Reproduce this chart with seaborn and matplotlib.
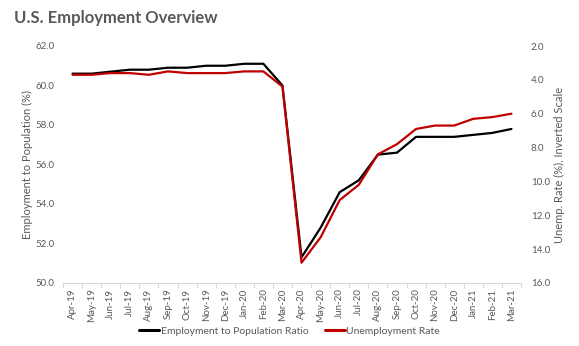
import matplotlib
matplotlib.use("Agg")
import matplotlib.pyplot as plt
import seaborn as sns
import pandas as pd
import numpy as np
from matplotlib.lines import Line2D

months = ["Apr-19", "May-19", "Jun-19", "Jul-19", "Aug-19", "Sep-19", "Oct-19", "Nov-19",
          "Dec-19", "Jan-20", "Feb-20", "Mar-20", "Apr-20", "May-20", "Jun-20", "Jul-20",
          "Aug-20", "Sep-20", "Oct-20", "Nov-20", "Dec-20", "Jan-21", "Feb-21", "Mar-21"]
emp_pop = [60.6, 60.6, 60.7, 60.8, 60.8, 60.9, 60.9, 61.0, 61.0, 61.1, 61.1, 60.0,
           51.3, 52.8, 54.6, 55.2, 56.5, 56.6, 57.4, 57.4, 57.4, 57.5, 57.6, 57.8]
unemp = [3.7, 3.7, 3.6, 3.6, 3.7, 3.5, 3.6, 3.6, 3.6, 3.5, 3.5, 4.4,
         14.8, 13.3, 11.1, 10.2, 8.4, 7.8, 6.9, 6.7, 6.7, 6.3, 6.2, 6.0]
left_ticks = [50.0, 52.0, 54.0, 56.0, 58.0, 60.0, 62.0]
right_ticks = [2.0, 4.0, 6.0, 8.0, 10.0, 12.0, 14.0, 16.0]

sns.set_style("white")
plt.rcParams["font.family"] = ["Lato", "DejaVu Sans"]

gray = "#595959"
red = "#C00000"

df = pd.DataFrame({"pos": np.arange(len(months)), "month": months,
                   "emp": emp_pop, "unemp": unemp})

fig = plt.figure(figsize=(5.79, 3.46), dpi=100)
ax = fig.add_axes([63 / 579, 1 - 283 / 346, (521 - 63) / 579, (283 - 46) / 346])
ax2 = ax.twinx()

sns.lineplot(data=df, x="pos", y="emp", ax=ax, color="black", linewidth=1.6, sort=False)
sns.lineplot(data=df, x="pos", y="unemp", ax=ax2, color=red, linewidth=1.6, sort=False)

ax.set_xlim(-0.5, len(months) - 0.5)
ax.set_ylim(50, 62)
ax2.set_ylim(16, 2)
ax.set_yticks(left_ticks)
ax.set_yticklabels([f"{v:.1f}" for v in left_ticks])
ax2.set_yticks(right_ticks)
ax2.set_yticklabels([f"{v:.1f}" for v in right_ticks])

ax.set_xticks(df["pos"])
ax.set_xticklabels(months, rotation=90)
ax.set_xticks(np.arange(-0.5, len(months), 1.0), minor=True)

for a in (ax, ax2):
    for s in ["top", "left", "right"]:
        a.spines[s].set_visible(False)
ax2.spines["bottom"].set_visible(False)
ax.spines["bottom"].set_color("#D9D9D9")
ax.spines["bottom"].set_linewidth(0.8)

ax.tick_params(axis="x", which="major", length=0, pad=4, labelsize=7, labelcolor=gray)
ax.tick_params(axis="x", which="minor", length=3.5, color="#D9D9D9", width=0.8, direction="out", bottom=True)
ax.tick_params(axis="y", length=0, pad=6, labelsize=7, labelcolor=gray)
ax2.tick_params(axis="y", length=0, pad=7, labelsize=7, labelcolor=gray)

ax.set_xlabel("")
ax.set_ylabel("Employment to Population (%)", fontsize=8, color=gray)
ax2.set_ylabel("Unemp. Rate (%), Inverted Scale", fontsize=8, color=gray)
ax.yaxis.set_label_coords((33 - 63) / 458, 0.5)
ax2.yaxis.set_label_coords((554 - 63) / 458, 0.5)

fig.text(14 / 579, 1 - 18 / 346, "U.S. Employment Overview", fontsize=12, fontweight="bold",
         color=gray, ha="left", va="center")

handles = [Line2D([], [], color="black", linewidth=2.2),
           Line2D([], [], color=red, linewidth=2.2)]
fig.legend(handles, ["Employment to Population Ratio", "Unemployment Rate"],
           loc="center", bbox_to_anchor=(0.5, 1 - 331 / 346), ncol=2, frameon=False,
           fontsize=7.5, labelcolor=gray, handlelength=1.9, handletextpad=0.15,
           columnspacing=1.6)

fig.savefig("out.png", dpi=100)
